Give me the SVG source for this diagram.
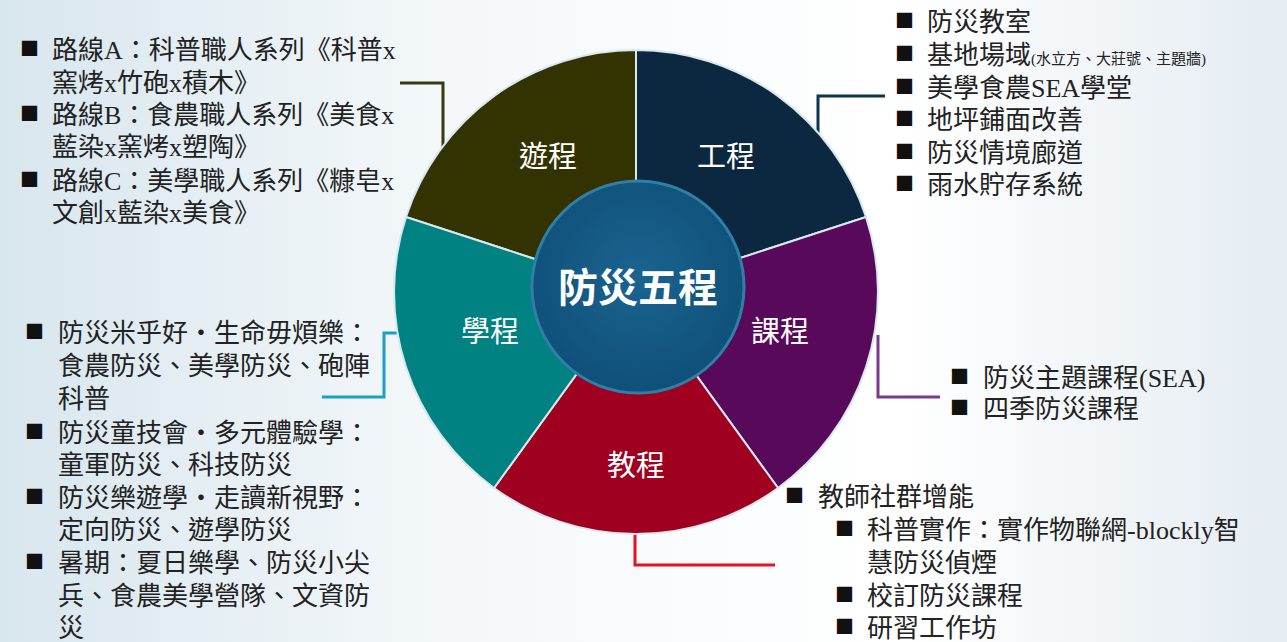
<svg xmlns="http://www.w3.org/2000/svg" width="1287" height="642" viewBox="0 0 1287 642">
<style>
.t{font-family:"Liberation Serif","Noto Sans CJK TC",serif;font-size:26px;fill:#222}
.s{font-size:15px}
.b{font-family:"Noto Sans CJK TC",sans-serif;font-size:19px;fill:#111}
.seg{stroke:#d8e8f0;stroke-width:2}
.lab{font-family:"Noto Sans CJK TC",sans-serif;font-size:29px;fill:#fff;text-anchor:middle}
.c{fill:none;stroke-width:3}
</style>
<defs>
<linearGradient id="bg" x1="0" y1="0" x2="1" y2="0">
<stop offset="0" stop-color="#d8e6ee"/><stop offset="0.35" stop-color="#f4f8fa"/><stop offset="0.7" stop-color="#ffffff"/><stop offset="1" stop-color="#e4ecf2"/>
</linearGradient>
<radialGradient id="cg" cx="0.5" cy="0.45" r="0.55">
<stop offset="0" stop-color="#1a6490"/><stop offset="1" stop-color="#0f5079"/>
</radialGradient>
</defs>
<rect width="1287" height="642" fill="url(#bg)"/>
<g id="connectors">
<polyline class="c" stroke="#3a3a10" points="400,83 443,83 443,150"/>
<polyline class="c" stroke="#0d3550" points="885,96 818,96 818,140"/>
<polyline class="c" stroke="#7a3a8a" points="878,335 878,397 940,397"/>
<polyline class="c" stroke="#e81020" points="635,535 635,565 775,565"/>
<polyline class="c" stroke="#1aa0c8" points="398,333 384,333 384,397 322,397"/>
</g>
<g id="pie">
<g id="n-youcheng"><path class="seg" fill="#323300" d="M636,292 L636,50 A242,242 0 0 0 406,217 Z"/><text class="lab" x="548" y="167">遊程</text></g>
<g id="n-gongcheng"><path class="seg" fill="#0b2840" d="M636,292 L636,50 A242,242 0 0 1 866,217 Z"/><text class="lab" x="726" y="167">工程</text></g>
<g id="n-kecheng"><path class="seg" fill="#58095a" d="M636,292 L866,217 A242,242 0 0 1 778,488 Z"/><text class="lab" x="780" y="342">課程</text></g>
<g id="n-jiaocheng"><path class="seg" fill="#a0001f" d="M636,292 L778,488 A242,242 0 0 1 494,488 Z"/><text class="lab" x="636" y="476">教程</text></g>
<g id="n-xuecheng"><path class="seg" fill="#008282" d="M636,292 L494,488 A242,242 0 0 1 406,217 Z"/><text class="lab" x="490" y="342">學程</text></g>
<g id="n-center"><circle cx="638" cy="287" r="106" fill="url(#cg)" stroke="#2f7fa8" stroke-width="3"/><text x="638" y="302" font-family="Noto Sans CJK TC,sans-serif" font-size="40" font-weight="bold" fill="#fff" text-anchor="middle">防災五程</text></g>
</g>
<g id="list-youcheng">
<text class="b" x="20" y="56">■</text><text class="t" x="52" y="59">路線A：科普職人系列《科普x</text>
<text class="t" x="52" y="92">窯烤x竹砲x積木》</text>
<text class="b" x="20" y="121">■</text><text class="t" x="52" y="124">路線B：食農職人系列《美食x</text>
<text class="t" x="52" y="156">藍染x窯烤x塑陶》</text>
<text class="b" x="20" y="187">■</text><text class="t" x="52" y="190">路線C：美學職人系列《糠皂x</text>
<text class="t" x="52" y="222">文創x藍染x美食》</text>
</g>
<g id="list-gongcheng">
<text class="b" x="895" y="28">■</text><text class="t" x="927" y="31">防災教室</text>
<text class="b" x="895" y="61">■</text><text class="t" x="927" y="64">基地場域<tspan class="s">(水立方、大莊號、主題牆)</tspan></text>
<text class="b" x="895" y="94">■</text><text class="t" x="927" y="97">美學食農SEA學堂</text>
<text class="b" x="895" y="126">■</text><text class="t" x="927" y="129">地坪鋪面改善</text>
<text class="b" x="895" y="159">■</text><text class="t" x="927" y="162">防災情境廊道</text>
<text class="b" x="895" y="191">■</text><text class="t" x="927" y="194">雨水貯存系統</text>
</g>
<g id="list-kecheng">
<text class="b" x="950" y="384">■</text><text class="t" x="983" y="387">防災主題課程(SEA)</text>
<text class="b" x="950" y="415">■</text><text class="t" x="983" y="418">四季防災課程</text>
</g>
<g id="list-jiaocheng">
<text class="b" x="785" y="503">■</text><text class="t" x="818" y="506">教師社群增能</text>
<text class="b" x="835" y="536">■</text><text class="t" x="867" y="539">科普實作：實作物聯網-blockly智</text>
<text class="t" x="867" y="572">慧防災偵煙</text>
<text class="b" x="835" y="602">■</text><text class="t" x="867" y="605">校訂防災課程</text>
<text class="b" x="835" y="634">■</text><text class="t" x="867" y="637">研習工作坊</text>
</g>
<g id="list-xuecheng">
<text class="b" x="25" y="339">■</text><text class="t" x="58" y="342">防災米乎好・生命毋煩樂：</text>
<text class="t" x="58" y="375">食農防災、美學防災、砲陣</text>
<text class="t" x="58" y="408">科普</text>
<text class="b" x="25" y="439">■</text><text class="t" x="58" y="442">防災童技會・多元體驗學：</text>
<text class="t" x="58" y="474">童軍防災、科技防災</text>
<text class="b" x="25" y="504">■</text><text class="t" x="58" y="507">防災樂遊學・走讀新視野：</text>
<text class="t" x="58" y="539">定向防災、遊學防災</text>
<text class="b" x="25" y="569">■</text><text class="t" x="58" y="572">暑期：夏日樂學、防災小尖</text>
<text class="t" x="58" y="605">兵、食農美學營隊、文資防</text>
<text class="t" x="58" y="637">災</text>
</g>
</svg>
